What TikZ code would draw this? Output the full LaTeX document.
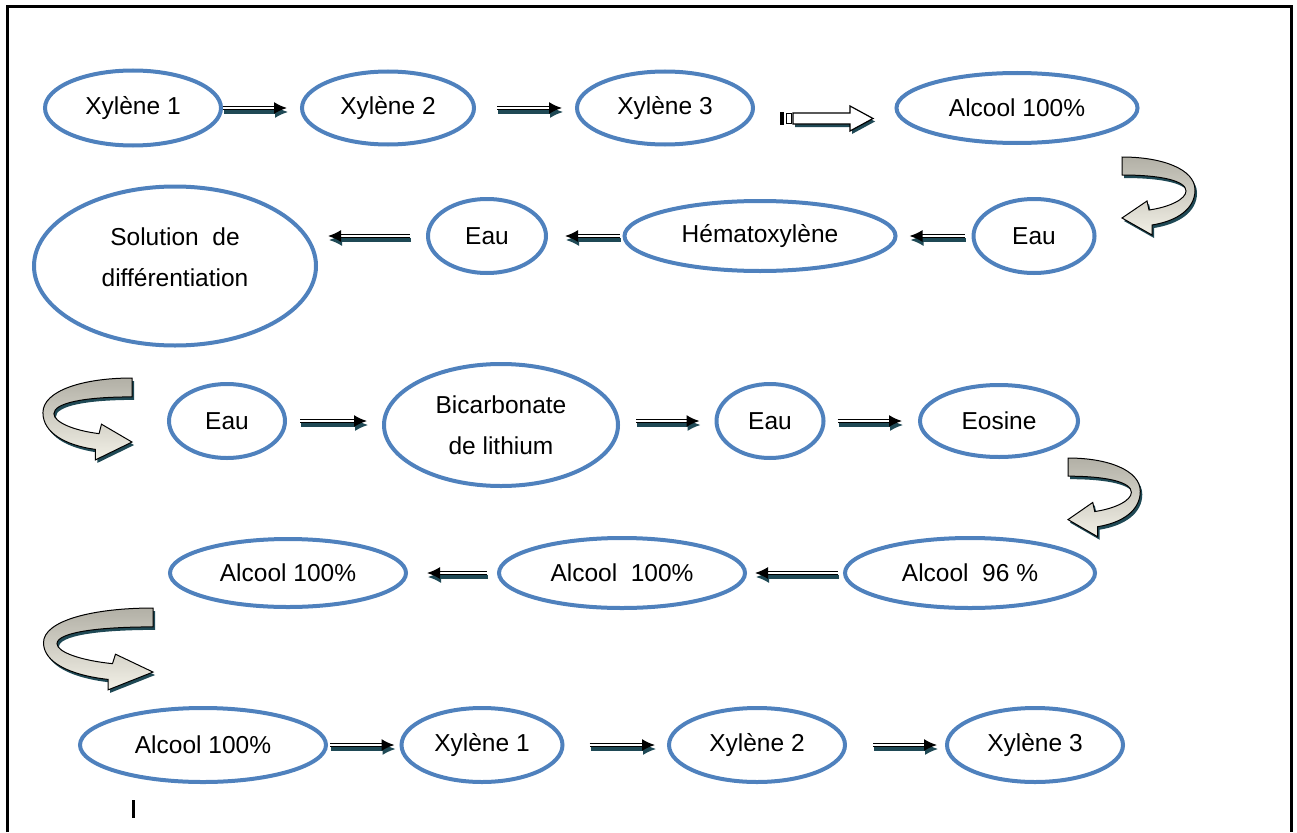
\documentclass[tikz,border=0pt]{standalone}
\usepackage{fontspec}
\setmainfont{Liberation Sans}
\usetikzlibrary{arrows.meta,shapes.geometric}

\definecolor{bleu}{RGB}{79,129,189}
\definecolor{ombre}{RGB}{31,73,85}
\definecolor{grisfonce}{RGB}{178,176,166}
\definecolor{grisclair}{RGB}{242,240,230}

% fleche courbe (demi-tour) : origine, echelle x, echelle y
\newcommand{\demitour}[4]{%
  \begin{scope}[shift={(#1,#2)},xscale=#3,yscale=#4]
  \draw[line width=1pt,top color=grisfonce,bottom color=grisclair,
        preaction={fill=ombre,transform canvas={xshift=2pt,yshift=-3pt}}]
    (0,0) .. controls (40,0) and (73,12) .. (73,33)
    .. controls (73,52) and (55,64) .. (30,68)
    -- (30,78) -- (0,61) -- (25,44) -- (27,53)
    .. controls (48,50) and (64,42) .. (64,34)
    .. controls (64,24) and (40,18) .. (0,18) -- cycle;
  \end{scope}}

\begin{document}
\begin{tikzpicture}[x=1pt,y=-1pt,
  etape/.style 2 args={draw=bleu,ellipse,line width=4pt,minimum width=#1pt,
    minimum height=#2pt,inner sep=0pt,align=center,font=\fontsize{24.5}{41}\selectfont},
  fleche/.style={double,double distance=1.6pt,line width=1.5pt,
    -{Latex[length=13pt,width=12pt]},
    preaction={draw=ombre,double=ombre,transform canvas={xshift=1pt,yshift=-4pt}}}]
\useasboundingbox (0,0) rectangle (1297,832);
\draw[line width=3pt] (7,832) -- (7,7) -- (1291,7) -- (1291,832);

% ligne 1
\node[etape={176}{75}] (x1) at (133,108) {Xylène 1};
\node[etape={172}{73}] (x2) at (388,108) {Xylène 2};
\node[etape={176}{73}] (x3) at (665,108) {Xylène 3};
\node[etape={241}{70}] (alc1) at (1017,108) {Alcool 100\%};
\draw[fleche,shorten >=13pt] (x1) -- (x2);
\draw[fleche,shorten <=21pt,shorten >=13pt] (x2) -- (x3);
\fill (780,112) rectangle (784,125);
\draw[line width=1pt] (786.5,113.5) rectangle (791.5,123.5);
\draw[line width=1.2pt,fill=white,line join=miter,
  preaction={fill=ombre,transform canvas={xshift=2pt,yshift=-3pt}}]
  (793,113) -- (850,113) -- (850,106) -- (873,118.5) -- (850,131)
  -- (850,124) -- (793,124) -- cycle;
\demitour{1122}{157}{1}{1}

% ligne 2
\node[etape={121}{74}] (eau1) at (1034,236) {Eau};
\node[etape={271}{70}] (hema) at (760,236) {Hématoxylène};
\node[etape={118}{74}] (eau2) at (487,236) {Eau};
\node[etape={282}{159}] (sol) at (175,266) {Solution~ de\\différentiation\\[-24pt]};
\draw[fleche,shorten <=7pt,shorten >=12pt] (eau1) -- (hema);
\draw[fleche,shorten <=3pt,shorten >=17pt] (hema) -- (eau2);
\draw[fleche,shorten <=16pt,shorten >=10pt] (eau2.west) -- (eau2.west -| sol.east);
\demitour{132}{378}{-1.22}{1.05}

% ligne 3
\node[etape={116}{74}] (eau3) at (227,421) {Eau};
\node[etape={234}{122}] (bicarb) at (501,425) {Bicarbonate\\de lithium};
\node[etape={107}{74}] (eau4) at (770,421) {Eau};
\node[etape={158}{72}] (eos) at (999,421) {Eosine};
\draw[fleche,shorten <=13pt,shorten >=15pt] (eau3.east) -- (eau3.east -| bicarb.west);
\draw[fleche,shorten <=16pt,shorten >=15pt] (eau4.west -| bicarb.east) -- (eau4.west);
\draw[fleche,shorten <=12pt,shorten >=16pt] (eau4) -- (eos);
\demitour{1068}{458}{0.99}{1.01}

% ligne 4
\node[etape={250}{70}] (alc96) at (970,573) {Alcool~ 96 \%};
\node[etape={246}{70}] (alc2) at (622,573) {Alcool~ 100\%};
\node[etape={236}{68}] (alc3) at (288,573) {Alcool 100\%};
\draw[fleche,shorten <=5pt,shorten >=8pt] (alc96) -- (alc2);
\draw[fleche,shorten <=10pt,shorten >=19pt] (alc2) -- (alc3);
\demitour{153}{608}{-1.5}{1.05}

% ligne 5
\node[etape={246}{74}] (alc4) at (203,745) {Alcool 100\%};
\node[etape={161}{74}] (x4) at (482,745) {Xylène 1};
\node[etape={176}{74}] (x5) at (757,745) {Xylène 2};
\node[etape={176}{74}] (x6) at (1035,745) {Xylène 3};
\draw[fleche,shorten <=2pt,shorten >=5pt] (alc4) -- (x4);
\draw[fleche,shorten <=25pt,shorten >=12pt] (x4) -- (x5);
\draw[fleche,shorten <=26pt,shorten >=8pt] (x5) -- (x6);
\fill (132,800) rectangle (135,818);
\end{tikzpicture}
\end{document}
